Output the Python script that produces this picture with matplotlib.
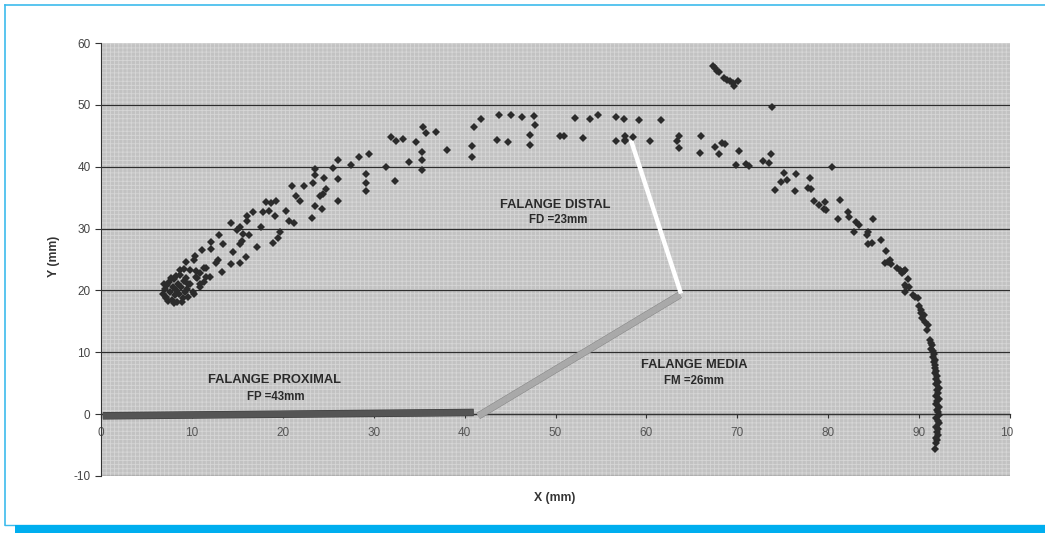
"""
Trayectoria de la punta del dedo (X-Y) con las tres falanges dibujadas.
"""
import matplotlib
matplotlib.use("Agg")
import matplotlib.pyplot as plt
from matplotlib.patches import Rectangle
from matplotlib.lines import Line2D
import matplotlib.patheffects as pe

plt.rcParams["font.family"] = ["Liberation Sans", "DejaVu Sans"]
plt.rcParams["hatch.linewidth"] = 0.6
plt.rcParams["axes.unicode_minus"] = False

# ── Datos: trayectoria medida de la punta del dedo (mm) ──────────────────────
TRAY_X = [
    # nube inicial
    6.8, 7.0, 7.2, 7.3, 7.5, 7.6, 7.8, 7.9, 8.0, 8.1, 8.2, 8.3, 8.4, 8.5, 8.6, 8.7,
    8.8, 9.0, 9.1, 9.2, 9.3, 9.5, 9.6, 9.8, 7.1, 7.4, 8.0, 8.9, 6.9, 7.7, 10.1, 10.2,
    8.7, 10.6, 9.6, 10.9,
    # subida
    9.1, 9.8, 10.5, 10.9, 11.6, 12.0, 13.3, 10.5, 10.9, 11.3, 11.3, 11.5, 12.9, 12.7,
    14.3, 15.3, 9.4, 10.2, 10.3, 11.1, 14.5, 15.9, 12.1, 12.1, 13.4, 15.3, 15.5, 17.2,
    18.9, 13.0, 15.6, 16.3, 19.7, 19.5, 15.0, 15.3, 17.6, 14.3, 16.1, 16.1, 16.7, 20.7,
    21.2, 23.2, 17.8, 18.5, 20.3, 19.1, 23.5, 24.3, 18.1, 18.7, 19.3, 21.9, 26.1, 21.5,
    24.1, 24.4, 24.8, 29.2, 21.0, 22.3, 23.3, 29.1, 32.3, 26.1, 24.5, 23.5, 29.2, 23.5,
    25.5, 31.3, 27.5, 26.1, 28.4, 29.5, 31.9, 32.5, 33.2,
    # zona alta
    33.9, 34.7, 35.4, 35.8, 36.9, 35.3, 35.3, 35.3, 38.1, 40.8, 40.8, 41.0, 41.8, 43.8,
    45.1, 46.3, 47.6, 47.7, 47.2, 47.2, 43.6, 44.8, 50.5, 50.9, 52.2, 53.0, 53.8, 54.7,
    56.7, 57.5, 59.2, 61.6, 56.7, 57.6, 57.7, 57.6, 58.5, 60.4, 63.6, 63.4, 63.6, 66.0,
    65.9, 67.6, 68.0, 68.3, 68.7, 70.2, 69.9, 71.0, 71.3, 72.8, 73.5, 73.7, 73.8,
    # grupo aislado arriba
    67.3, 67.5, 67.8, 68.0, 68.5, 68.9, 69.2, 69.5, 69.6, 70.1,
    # bajada
    75.1, 74.8, 75.5, 76.5, 76.4, 74.1, 78.0, 77.8, 78.1, 80.4, 78.4, 79.0, 79.6, 79.5,
    79.8, 81.3, 81.1, 82.2, 82.3, 83.1, 83.4, 82.8, 84.4, 84.3, 84.9, 84.4, 84.8, 85.8,
    86.4, 86.2, 86.6, 86.8, 86.9, 87.6, 87.9, 88.1, 88.3, 88.5, 88.8, 88.4, 88.6, 88.9,
    88.5, 89.3, 89.6, 89.9, 90.0, 90.2, 90.2, 90.5, 90.3, 90.7, 91.0, 90.9,
    # tramo vertical final
    91.2, 91.3, 91.4, 91.3, 91.5, 91.6, 91.5, 91.7, 91.6, 91.8, 91.7, 91.9, 91.8, 92.0,
    91.9, 92.1, 91.9, 92.2, 92.0, 92.1, 91.9, 92.2, 92.0, 91.9, 92.2, 92.0, 92.1, 92.2,
    91.9, 92.1, 92.2, 91.9, 92.1, 92.0, 92.1, 91.9, 92.0, 91.9, 91.7,
]
TRAY_Y = [
    19.5, 20.2, 19.0, 20.8, 21.3, 19.8, 18.5, 20.5, 21.8, 19.2, 22.3, 20.0, 18.2, 21.0, 19.5, 22.5,
    20.5, 18.8, 21.5, 19.8, 22.0, 20.3, 19.0, 21.0, 18.8, 18.3, 17.9, 18.2, 21.0, 22.0, 19.8, 19.5,
    23.3, 22.0, 21.1, 20.6,
    23.4, 23.3, 23.2, 22.8, 22.2, 22.2, 23.0, 22.1, 21.1, 21.4, 23.7, 23.7, 25.0, 24.4,
    24.2, 24.4, 24.6, 24.9, 25.6, 26.5, 26.2, 25.4, 27.8, 26.7, 27.5, 27.5, 28.0, 27.1,
    27.7, 28.9, 29.1, 28.9, 29.4, 28.5, 29.7, 30.3, 30.3, 30.9, 31.3, 32.0, 32.6, 31.3,
    30.9, 31.7, 32.7, 32.8, 32.8, 32.0, 33.7, 33.2, 34.3, 34.1, 34.4, 34.5, 34.5, 35.3,
    35.2, 35.6, 36.4, 36.0, 36.9, 36.9, 37.3, 37.3, 37.7, 38.0, 38.2, 38.7, 38.8, 39.6,
    39.8, 39.9, 40.3, 41.1, 41.6, 42.1, 44.8, 44.2, 44.4,
    40.7, 44.0, 46.4, 45.4, 45.6, 42.3, 41.1, 39.5, 42.7, 43.3, 41.6, 46.5, 47.7, 48.3,
    48.4, 48.1, 48.2, 46.7, 45.1, 43.5, 44.3, 44.0, 44.9, 45.0, 47.9, 44.7, 47.7, 48.3,
    48.0, 47.7, 47.5, 47.6, 44.2, 45.0, 44.3, 44.1, 44.8, 44.1, 44.9, 44.2, 43.1, 44.9,
    42.2, 43.2, 42.1, 43.8, 43.6, 42.5, 40.3, 40.5, 40.1, 40.9, 40.6, 42.1, 49.7,
    56.3, 55.9, 55.4, 55.3, 54.3, 54.0, 53.9, 53.5, 53.0, 53.8,
    39.0, 37.5, 37.9, 38.8, 36.1, 36.2, 38.2, 36.6, 36.4, 40.0, 34.4, 33.8, 34.3, 33.2,
    33.0, 34.6, 31.6, 32.6, 31.8, 31.1, 30.5, 29.5, 29.5, 29.0, 31.5, 27.5, 27.6, 28.2,
    26.4, 24.4, 24.6, 25.0, 24.3, 23.7, 23.3, 22.8, 23.1, 23.3, 21.8, 20.9, 20.6, 20.5,
    19.8, 19.2, 18.9, 18.7, 17.5, 16.8, 16.3, 16.0, 15.5, 14.9, 14.4, 13.6,
    12.0, 11.5, 11.1, 10.6, 10.2, 9.7, 9.3, 8.8, 8.4, 7.9, 7.5, 7.0, 6.6, 6.1,
    5.7, 5.2, 4.8, 4.3, 3.9, 3.4, 3.0, 2.5, 2.1, 1.6, 1.2, 0.7, 0.3, -0.2,
    -0.6, -1.1, -1.5, -2.0, -2.4, -2.9, -3.3, -3.8, -4.2, -4.6, -5.6,
]

# falanges: (x0, x1), (y0, y1)
FP_X, FP_Y = [0.2, 41.0], [-0.27, 0.27]
FM_X, FM_Y = [41.5, 63.7], [-0.3, 19.3]
FD_X, FD_Y = [63.8, 58.3], [19.5, 44.3]

X_TICKS = [0, 10, 20, 30, 40, 50, 60, 70, 80, 90, 100]
Y_TICKS = [-10, 0, 10, 20, 30, 40, 50, 60]

W, H = 1045, 533
fig = plt.figure(figsize=(W / 100, H / 100), dpi=100)
ax = fig.add_axes([101 / W, 1 - 476 / H, (1010 - 101) / W, (476 - 43) / H])

# fondo gris tramado tipo Excel
ax.set_facecolor("#c2c2c2")
ax.add_patch(Rectangle((0, 0), 1, 1, transform=ax.transAxes, facecolor="none",
                       edgecolor="#d6d6d6", hatch="++++", lw=0, zorder=0.3))

ax.plot(FP_X, FP_Y, color="#555555", lw=4.6, solid_capstyle="butt", zorder=3,
        path_effects=[pe.Stroke(linewidth=5.4, foreground="#3a3a3a"), pe.Normal()])
ax.plot(FM_X, FM_Y, color="#a9a9a9", lw=4.4, solid_capstyle="butt", zorder=3,
        path_effects=[pe.Stroke(linewidth=5.2, foreground="#8a8a8a"), pe.Normal()])
ax.plot(FD_X, FD_Y, color="white", lw=3.2, solid_capstyle="butt", zorder=3)

ax.plot(TRAY_X, TRAY_Y, ls="none", marker="D", ms=4.0, color="#2b2b2b", mew=0, zorder=4)

ax.set_xlim(0, 100)
ax.set_ylim(-10, 60)
ax.set_xticks(X_TICKS)
ax.set_yticks(Y_TICKS)
ax.grid(axis="y", color="#2e2e2e", lw=0.9)
ax.set_axisbelow(True)
ax.get_ygridlines()[-1].set_visible(False)

for s in ("top", "right"):
    ax.spines[s].set_visible(False)
ax.spines["left"].set_color("#333333")
ax.spines["bottom"].set_position(("data", 0))
ax.spines["bottom"].set_color("#333333")
ax.spines["bottom"].set_linewidth(0.9)

ax.tick_params(axis="x", direction="out", length=3, pad=6, colors="#333333",
               labelcolor="#555555", labelsize=8.5)
ax.tick_params(axis="y", direction="out", length=4, pad=3.5, colors="#333333",
               labelcolor="#444444", labelsize=8.5)

ax.text(50.0, 33.8, "FALANGE DISTAL", ha="center", va="center", fontsize=9.3,
        fontweight="bold", color="#2a2a2a", zorder=5)
ax.text(50.3, 31.4, "FD =23mm", ha="center", va="center", fontsize=8.3,
        fontweight="bold", color="#2a2a2a", zorder=5)
ax.text(65.3, 7.9, "FALANGE MEDIA", ha="center", va="center", fontsize=9.3,
        fontweight="bold", color="#2a2a2a", zorder=5)
ax.text(65.2, 5.4, "FM =26mm", ha="center", va="center", fontsize=8.3,
        fontweight="bold", color="#2a2a2a", zorder=5)
ax.text(19.1, 5.5, "FALANGE PROXIMAL", ha="center", va="center", fontsize=9.3,
        fontweight="bold", color="#2a2a2a", zorder=5)
ax.text(19.2, 2.8, "FP =43mm", ha="center", va="center", fontsize=8.3,
        fontweight="bold", color="#2a2a2a", zorder=5)

fig.text(555 / W, 1 - 498 / H, "X (mm)", ha="center", va="center", fontsize=8.8,
         fontweight="bold", color="#333333")
fig.text(54 / W, 1 - 256 / H, "Y (mm)", ha="center", va="center", fontsize=8.8,
         fontweight="bold", color="#333333", rotation=90)

# recorte de la etiqueta "100" como en el original
fig.add_artist(Rectangle((1013 / W, 1 - 450 / H), (W - 1013) / W, 35 / H,
                         transform=fig.transFigure, facecolor="white", lw=0, zorder=10))

# marco azul
azul = "#3dbbec"
fig.add_artist(Line2D([5 / W, 5 / W], [1 - 525 / H, 1 - 5 / H], transform=fig.transFigure,
                      color=azul, lw=1.2, zorder=11))
fig.add_artist(Line2D([5 / W, 1], [1 - 5 / H, 1 - 5 / H], transform=fig.transFigure,
                      color=azul, lw=1.2, zorder=11))
fig.add_artist(Line2D([5 / W, 1], [1 - 525 / H, 1 - 525 / H], transform=fig.transFigure,
                      color=azul, lw=1.0, zorder=11))
fig.add_artist(Rectangle((15 / W, 0), 1 - 15 / W, 8 / H, transform=fig.transFigure,
                         facecolor="#00aeef", lw=0, zorder=11))

fig.savefig("out.png", dpi=100)
